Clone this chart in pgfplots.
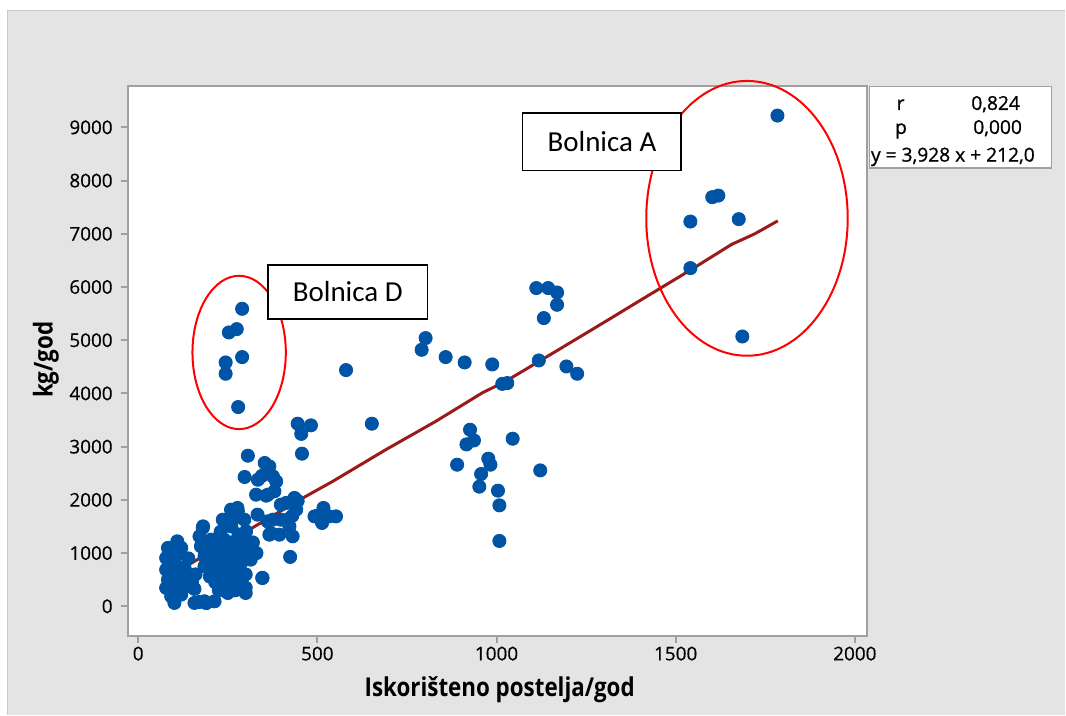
\documentclass[border=0pt]{standalone}
\usepackage{fontspec}
\setmainfont{Open Sans}
\newfontfamily\carlito{Carlito}
\newfontfamily\labfont[FakeStretch=0.86]{Open Sans Bold}
\newfontfamily\tickfont[FakeBold=0.5]{Open Sans}
\newfontfamily\statfont[FakeBold=0.9]{Open Sans}
\usepackage{pgfplots}
\pgfplotsset{compat=1.18}
\definecolor{bg}{HTML}{E4E4E4}
\definecolor{bgline}{HTML}{C8C8C8}
\definecolor{frame}{HTML}{A0A0A0}
\definecolor{mtblue}{HTML}{0054A6}
\definecolor{fitred}{HTML}{9B1B1B}
\begin{document}
\begin{tikzpicture}[x=1pt,y=1pt]
\fill[white] (0,0) rectangle (533,357.5);
\fill[bg] (3.65,0) rectangle (533,352.15);
\draw[bgline, line width=0.75pt] (3.65,0) -- (3.65,352.15) -- (533,352.15);
\begin{axis}[
  at={(63.85pt,39.15pt)}, anchor=south west,
  scale only axis, width=370.15pt, height=275.35pt,
  xmin=-29.6, xmax=2035, ymin=-563, ymax=9778,
  axis background/.style={fill=white},
  axis line style={frame, line width=1pt},
  tick style={frame, line width=1pt},
  tick align=outside, major tick length=3.5pt,
  tick pos=left,
  xtick={0,500,1000,1500,2000},
  ytick={0,1000,2000,3000,4000,5000,6000,7000,8000,9000},
  /pgf/number format/.cd, 1000 sep={}, assume math mode=true, /pgfplots/.cd,
  ticklabel style={font=\tickfont\fontsize{9.45}{11}\selectfont, text=black},
  xticklabel style={inner sep=0pt, anchor=north, yshift=-1.5pt},
  yticklabel style={inner sep=0pt, anchor=east, xshift=-3.8pt},
  xlabel={Iskorišteno postelja/god},
  ylabel={kg/god},
  xlabel style={at={(axis description cs:0.503,0)}, anchor=base, yshift=-30pt, font=\labfont\fontsize{13}{15}\selectfont},
  ylabel style={at={(axis description cs:-0.1105,0.5025)}, anchor=center, rotate=0, font=\labfont\fontsize{13}{15}\selectfont},
]
\addplot[fitred, line width=1.5pt, no marks] coordinates {
(125,721) (300,1400) (450,2000) (543,2348) (691,2943) (830,3474) (960,4010)
(1025,4226) (1173,4821) (1312,5384) (1396,5728) (1544,6330) (1656,6800)
(1721,7000) (1785,7243)
};
\addplot[only marks, mark=*, mark size=3.3pt, mtblue, mark options={draw=mtblue, fill=mtblue}] table {
x y
1784 9221
1602 7688
1619 7718
1541 7230
1676 7275
1541 6355
1686 5070
1111 5980
1144 5980
1169 5897
1169 5666
1132 5416
1118 4620
1195 4507
1225 4370
1030 4195
1016 4180
988 4545
911 4582
858 4683
802 5040
791 4820
580 4439
290 5590
253 5146
275 5208
290 4683
244 4582
244 4370
279 3744
652 3431
445 3431
482 3400
455 3240
457 2868
926 3318
937 3117
916 3042
1045 3149
890 2661
977 2774
983 2661
957 2486
1122 2554
952 2248
1004 2173
1008 1897
1008 1228
517 1848
492 1690
513 1566
552 1690
533 1690
500 1700
436 2036
413 1942
441 1816
376 1628
417 1628
422 1502
366 1346
394 1346
431 1315
424 928
346 533
398 1910
398 1628
361 1596
370 1378
430 1700
445 1980
306 2830
353 2693
362 2567
376 2441
385 2347
297 2430
334 2379
329 2098
362 2098
380 2160
357 2079
366 2629
345 2450
109 1221
83 1097
78 909
78 689
83 501
78 346
92 188
101 64
124 563
138 376
157 327
120 220
110 751
157 64
185 94
213 94
180 1472
171 1315
175 1127
185 939
185 751
203 657
217 1190
240 1253
250 1065
231 939
268 939
287 1065
296 1253
259 1816
277 1848
250 1596
296 1628
333 1722
301 1408
314 877
287 815
213 815
250 751
231 563
250 533
287 314
240 346
259 439
347 533
278 1784
236 1628
264 1628
181 1502
204 1253
95 600
100 450
90 850
105 950
115 300
130 700
140 900
200 1000
210 1100
225 1000
260 1200
270 1100
230 700
270 650
300 1000
280 1350
320 1200
270 300
300 250
250 250
230 1400
260 1500
200 1200
190 60
170 80
95 300
85 750
100 1000
120 1100
130 500
150 450
160 600
240 1100
260 900
275 800
310 1100
330 1000
215 450
225 300
200 560
300 600
275 480
300 350
};
\end{axis}
% annotations
\draw[red, line width=1pt] (119.65,181.15) ellipse [x radius=23.35, y radius=38.35];
\draw[red, line width=1pt] (373.75,248.25) ellipse [x radius=50.4, y radius=68.75];
\draw[black, fill=white, line width=0.75pt] (134.15,197.85) rectangle (213.85,225);
\node[font=\carlito\fontsize{14.5}{17}\selectfont] at (174,211.4) {Bolnica D};
\draw[black, fill=white, line width=0.75pt] (261.5,272.15) rectangle (340.85,300.85);
\node[font=\carlito\fontsize{14.5}{17}\selectfont] at (301.2,286.5) {Bolnica A};
% stats box
\draw[frame, fill=white, line width=0.75pt] (435,273.5) rectangle (526,314.15);
\begin{scope}[every node/.style={font=\statfont\fontsize{9.6}{11}\selectfont, inner sep=0pt}]
\node[anchor=base] at (450.6,302.5) {r};
\node[anchor=base east] at (510.5,302.5) {0,824};
\node[anchor=base] at (450.8,290.5) {p};
\node[anchor=base east] at (511.5,290.5) {0,000};
\node[anchor=base west] at (435.6,276.65) {y = 3,928 x + 212,0};
\end{scope}
\end{tikzpicture}
\end{document}
